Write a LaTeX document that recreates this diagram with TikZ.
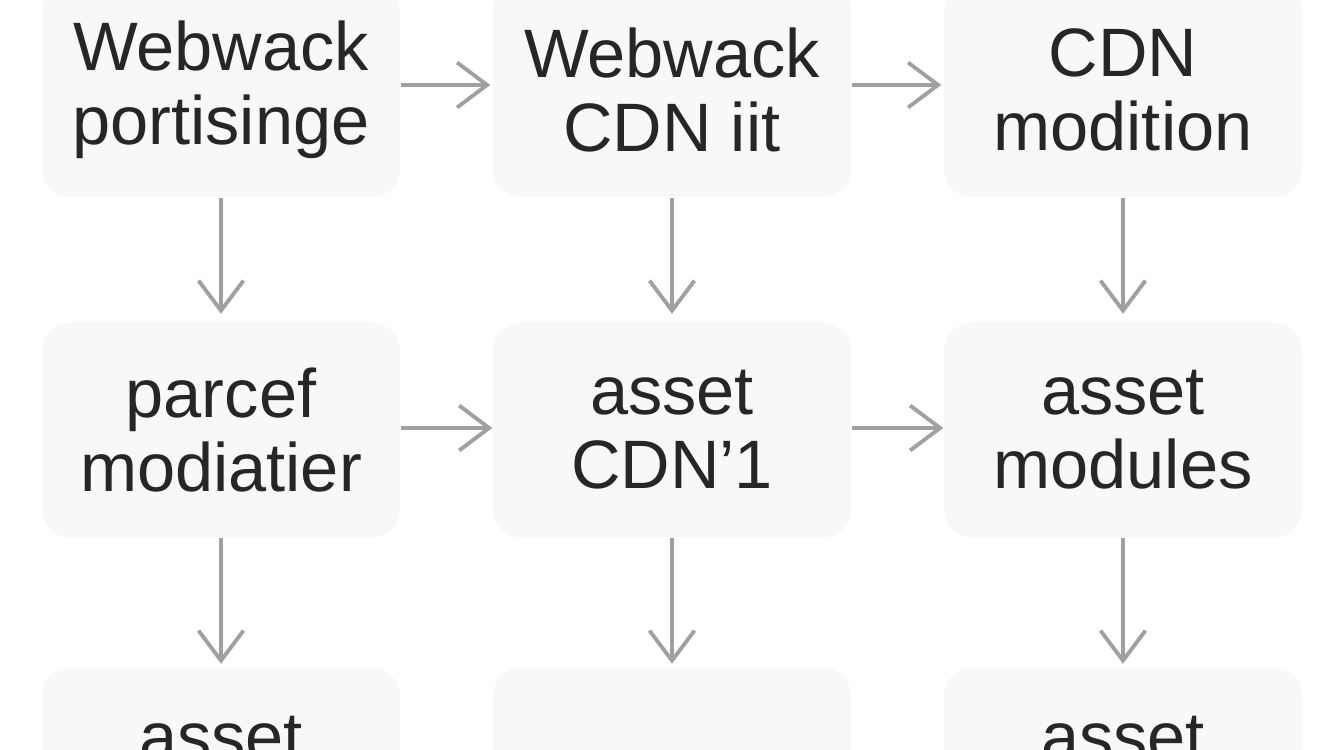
\documentclass[tikz,border=0pt]{standalone}
\usepackage{fontspec}
\setmainfont{Liberation Sans}
\usetikzlibrary{positioning,arrows.meta}
\definecolor{boxgray}{RGB}{248,248,248}
\definecolor{arrowgray}{RGB}{160,160,160}

\begin{document}
\begin{tikzpicture}[
    stage/.style={rectangle, rounded corners=8pt, fill=boxgray, minimum width=3.58cm, minimum height=2.15cm, align=center, font=\fontsize{19.5}{21}\selectfont, text=black!85},
    flow/.style={-{Straight Barb[length=3mm, width=4.5mm]}, arrowgray, line width=1.1pt}
]
\useasboundingbox (0,0) rectangle (13.44,7.5);
\clip (0,0) rectangle (13.44,7.5);

% first row
\node[stage] (wp) at (2.21,6.6) {Webwack\\portisinge};
\node[stage] (wc) at (6.72,6.6) {Webwack\\CDN iit};
\node[stage] (cm) at (11.23,6.6) {CDN\\modition};

% second row
\node[stage] (pm) at (2.21,3.2) {parcef\\modiatier};
\node[stage] (ac) at (6.72,3.2) {asset\\CDN'1};
\node[stage] (am) at (11.23,3.2) {asset\\modules};

% third row (cut off)
\node[stage] (a1) at (2.21,-0.25) {asset\\\phantom{x}};
\node[stage] (a2) at (6.72,-0.25) {};
\node[stage] (a3) at (11.23,-0.25) {asset\\\phantom{x}};

% arrows
\draw[flow] ([yshift=0.05cm]wp.east) -- ([xshift=-0.02cm,yshift=0.05cm]wc.west);
\draw[flow] ([yshift=0.05cm]wc.east) -- ([xshift=-0.02cm,yshift=0.05cm]cm.west);
\draw[flow] ([yshift=0.02cm]pm.east) -- ([yshift=0.02cm]ac.west);
\draw[flow] ([yshift=0.02cm]ac.east) -- ([yshift=0.02cm]am.west);
\draw[flow] (wp.south) -- ([yshift=0.08cm]pm.north);
\draw[flow] (wc.south) -- ([yshift=0.08cm]ac.north);
\draw[flow] (cm.south) -- ([yshift=0.08cm]am.north);
\draw[flow] (pm.south) -- ([yshift=0.03cm]a1.north);
\draw[flow] (ac.south) -- ([yshift=0.03cm]a2.north);
\draw[flow] (am.south) -- ([yshift=0.03cm]a3.north);
\end{tikzpicture}
\end{document}
